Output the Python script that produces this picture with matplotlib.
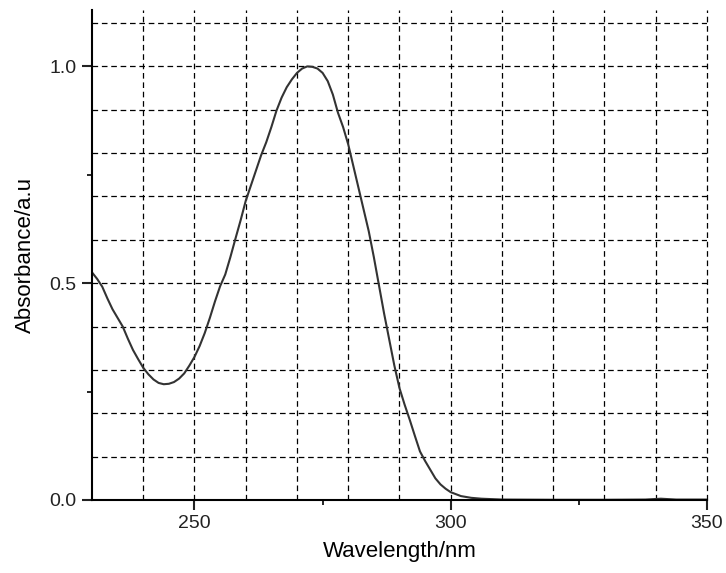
import numpy as np
import matplotlib
matplotlib.use('Agg')
from matplotlib import pyplot as plt
from matplotlib.ticker import MultipleLocator

# Spektrum adatok (leolvasva)
wavelength = list(range(230, 301)) + [302, 304, 306, 310, 320, 330, 338, 341, 344, 350]
absorbance = [0.525, 0.51, 0.492, 0.465, 0.44, 0.42, 0.40, 0.372, 0.346, 0.325,  # 230-239
              0.305, 0.29, 0.278, 0.27, 0.267, 0.268, 0.272, 0.28, 0.292, 0.31,   # 240-249
              0.33, 0.355, 0.385, 0.42, 0.458, 0.493, 0.52, 0.56, 0.603, 0.645,   # 250-259
              0.69, 0.725, 0.76, 0.795, 0.825, 0.86, 0.898, 0.928, 0.952, 0.97,   # 260-269
              0.985, 0.995, 1.0, 0.999, 0.995, 0.985, 0.966, 0.935, 0.893, 0.86,  # 270-279
              0.82, 0.77, 0.72, 0.67, 0.62, 0.56, 0.495, 0.43, 0.37, 0.31,        # 280-289
              0.258, 0.22, 0.185, 0.148, 0.112, 0.09, 0.07, 0.05, 0.036, 0.026,   # 290-299
              0.018,                                                              # 300
              0.009, 0.005, 0.003, 0.001, 0.0005, 0.0005, 0.001, 0.003, 0.001, 0.001]

x_ticks = [250, 300, 350]
y_ticks = [0.0, 0.5, 1.0]
y_ticklabels = ['0.0', '0.5', '1.0']

plt.rcParams['font.family'] = ['Liberation Sans', 'DejaVu Sans']

fig = plt.figure(figsize=(7.26, 5.73), dpi=100)
ax = fig.add_axes([0.1267, 0.1274, 0.8471, 0.8551])

# Rácsvonalak
for gx in range(240, 351, 10):
    ax.axvline(gx, color='black', linestyle=(0, (4.5, 3)), linewidth=0.9, zorder=1, clip_on=False)
for gy in np.arange(0.1, 1.15, 0.1):
    ax.axhline(gy, color='black', linestyle=(0, (4.5, 3)), linewidth=0.9, zorder=1)

ax.plot(wavelength, absorbance, color='#333333', linewidth=1.5, zorder=3)

ax.set_xlim(230, 350)
ax.set_ylim(0, 1.13)
ax.set_xticks(x_ticks)
ax.set_yticks(y_ticks)
ax.set_yticklabels(y_ticklabels)
ax.xaxis.set_minor_locator(MultipleLocator(25))
ax.yaxis.set_minor_locator(MultipleLocator(0.25))

ax.spines['top'].set_visible(False)
ax.spines['right'].set_visible(False)
for s in ['left', 'bottom']:
    ax.spines[s].set_linewidth(1.5)
    ax.spines[s].set_zorder(4)

ax.tick_params(which='major', direction='out', length=7, width=1.5, labelsize=14, pad=4, colors='#222222')
ax.tick_params(which='minor', direction='out', length=3.5, width=1.2)

ax.set_xlabel('Wavelength/nm', fontsize=16, labelpad=6)
ax.set_ylabel('Absorbance/a.u', fontsize=16, labelpad=10)

plt.savefig('out.png', dpi=100)
